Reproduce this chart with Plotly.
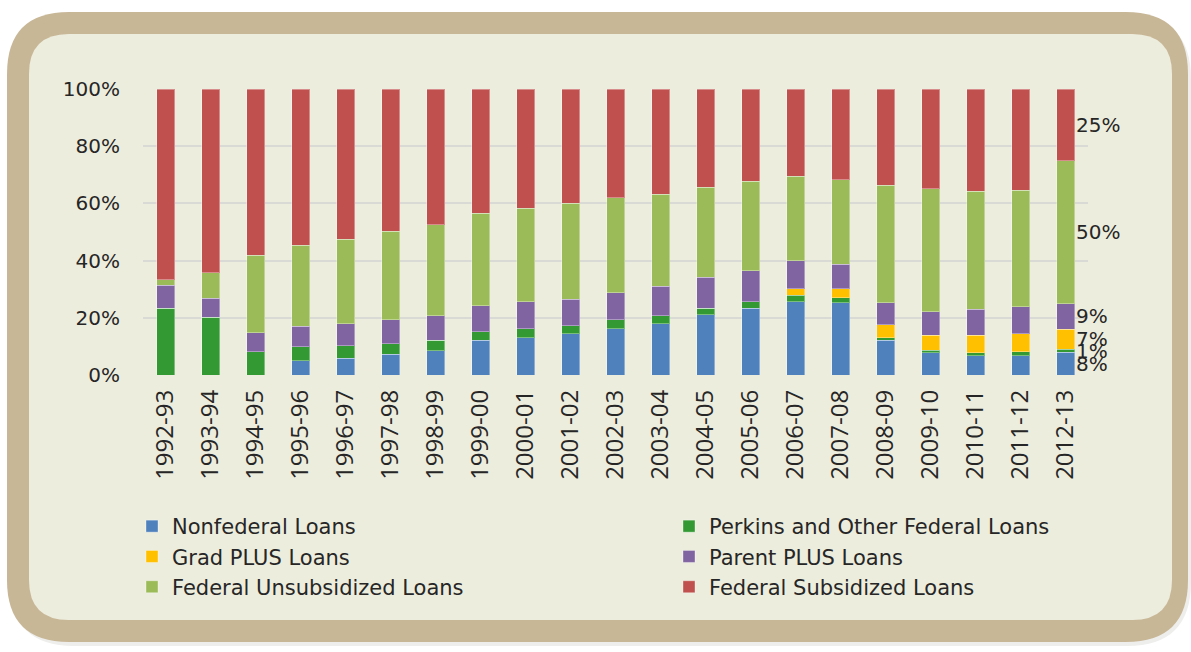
import plotly.graph_objects as go

years = ["1992-93", "1993-94", "1994-95", "1995-96", "1996-97", "1997-98", "1998-99",
         "1999-00", "2000-01", "2001-02", "2002-03", "2003-04", "2004-05", "2005-06",
         "2006-07", "2007-08", "2008-09", "2009-10", "2010-11", "2011-12", "2012-13"]
nonfederal = [0, 0, 0, 4.9, 5.8, 7.2, 8.5, 12.1, 13.1, 14.4, 16.1, 18.0, 21.0, 23.3,
              25.7, 25.2, 12.1, 7.7, 6.8, 6.8, 8]
perkins = [23.3, 20.2, 8.1, 4.9, 4.5, 3.7, 3.6, 3.1, 3.1, 2.8, 3.3, 2.7, 2.3, 2.4,
           2.2, 1.8, 1.0, 0.9, 0.9, 1.3, 1]
grad_plus = [0, 0, 0, 0, 0, 0, 0, 0, 0, 0, 0, 0, 0, 0,
             2.2, 3.1, 4.4, 5.3, 6.2, 6.3, 7]
parent_plus = [8.1, 6.6, 6.7, 7.2, 7.7, 8.5, 8.6, 9.1, 9.5, 9.3, 9.4, 10.3, 10.9, 10.7,
               9.8, 8.6, 7.7, 8.2, 9.1, 9.4, 9]
unsubsidized = [1.9, 9.0, 27.0, 28.4, 29.5, 30.8, 31.8, 32.2, 32.6, 33.6, 33.2, 32.2, 31.4, 31.4,
                29.6, 29.6, 41.2, 43.0, 41.2, 40.8, 50]
subsidized = [66.7, 64.2, 58.2, 54.6, 52.5, 49.8, 47.5, 43.5, 41.7, 39.9, 38.0, 36.8, 34.4, 32.2,
              30.5, 31.7, 33.6, 34.9, 35.8, 35.4, 25]

series = [
    ("Nonfederal Loans", nonfederal, "#4F81BD", "legend"),
    ("Perkins and Other Federal Loans", perkins, "#339933", "legend2"),
    ("Grad PLUS Loans", grad_plus, "#FFC000", "legend"),
    ("Parent PLUS Loans", parent_plus, "#8064A2", "legend2"),
    ("Federal Unsubsidized Loans", unsubsidized, "#9BBB59", "legend"),
    ("Federal Subsidized Loans", subsidized, "#C0504D", "legend2"),
]

W, H = 1191, 652
L, R, T, B = 143, 1088, 89, 375  # plot area in pixels


def px(x):
    return (x - L) / (R - L)


def py(y):
    return (B - y) / (B - T)


def rrect(x0, y0, x1, y1, r):
    return (f"M {px(x0 + r)} {py(y0)} L {px(x1 - r)} {py(y0)} "
            f"Q {px(x1)} {py(y0)} {px(x1)} {py(y0 + r)} "
            f"L {px(x1)} {py(y1 - r)} Q {px(x1)} {py(y1)} {px(x1 - r)} {py(y1)} "
            f"L {px(x0 + r)} {py(y1)} Q {px(x0)} {py(y1)} {px(x0)} {py(y1 - r)} "
            f"L {px(x0)} {py(y0 + r)} Q {px(x0)} {py(y0)} {px(x0 + r)} {py(y0)} Z")


fig = go.Figure()
for name, vals, color, leg in series:
    fig.add_trace(go.Bar(
        x=years, y=vals, name=name, legend=leg,
        marker=dict(color=color, line=dict(color="rgba(255,255,255,0.35)", width=1)),
        hoverinfo="skip",
    ))

# data labels on last bar
last = len(years) - 1
cum = 0
for name, vals, color, leg in series:
    v = vals[last]
    fig.add_annotation(x=years[last], y=cum + v / 2, text=f"{v:.0f}%",
                       xanchor="left", yanchor="middle", xshift=8, showarrow=False,
                       font=dict(family="DejaVu Sans", size=20, color="#262626"))
    cum += v

legend_font = dict(family="DejaVu Sans", size=21, color="#262626")

fig.update_layout(
    width=W, height=H,
    margin=dict(l=L, r=W - R, t=T, b=H - B, pad=0, autoexpand=False),
    barmode="stack", bargap=0.6,
    paper_bgcolor="white", plot_bgcolor="rgba(0,0,0,0)",
    shapes=[
        dict(type="path", xref="paper", yref="paper", path=rrect(10, 15, 1191, 646, 64),
             fillcolor="#EEEEEC", line=dict(width=0), layer="below"),
        dict(type="path", xref="paper", yref="paper", path=rrect(7, 12, 1188, 642, 62),
             fillcolor="#C8B797", line=dict(width=0), layer="below"),
        dict(type="path", xref="paper", yref="paper", path=rrect(29, 34, 1172, 620, 40),
             fillcolor="#EDEDDD", line=dict(width=0), layer="below"),
    ],
    xaxis=dict(type="category", range=[-0.5, len(years) - 0.5], tickangle=-90,
               showgrid=False, zeroline=False,
               showline=False, ticks="", ticklabelstandoff=9, automargin=False,
               tickfont=dict(family="Open Sans", size=24, color="#262626")),
    yaxis=dict(range=[0, 100], dtick=20, ticksuffix="%", showgrid=True,
               gridcolor="#D9D9D5", gridwidth=2, zeroline=False, showline=False,
               ticklabelstandoff=22, automargin=False,
               tickfont=dict(family="DejaVu Sans", size=20, color="#262626")),
    legend=dict(x=px(132), y=py(506), xanchor="left", yanchor="top", orientation="v",
                traceorder="normal", bgcolor="rgba(0,0,0,0)", font=legend_font,
                itemclick=False, itemdoubleclick=False),
    legend2=dict(x=px(669), y=py(506), xanchor="left", yanchor="top", orientation="v",
                 traceorder="normal", bgcolor="rgba(0,0,0,0)", font=legend_font,
                 itemclick=False, itemdoubleclick=False),
)

fig.write_html("out.html")
